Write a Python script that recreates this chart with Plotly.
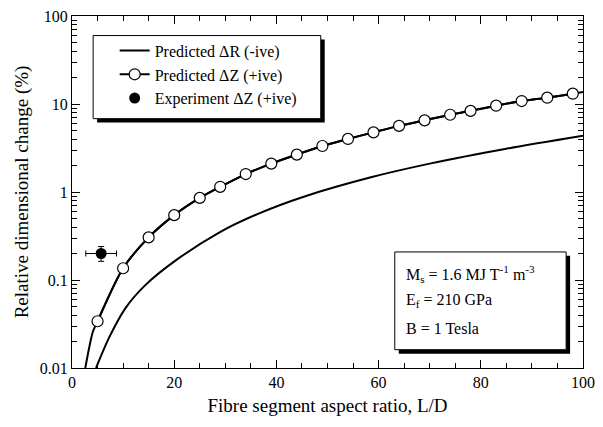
import plotly.graph_objects as go

# ---- data ----
dz_x = [5, 10, 15, 20, 25, 29, 34, 39, 44, 49, 54, 59, 64, 69, 74, 78, 83, 88, 93, 98]
dz_y = [0.034, 0.136, 0.305, 0.546, 0.857, 1.145, 1.60, 2.10, 2.66, 3.33, 4.01, 4.76,
        5.64, 6.52, 7.55, 8.36, 9.57, 10.8, 11.8, 13.1]
# smooth ΔZ curve ends beyond the marked points
dz_lo_x = [2.6, 3.4, 4.05]
dz_lo_y = [0.01, 0.0174, 0.0255]
dz_hi_x = [100]
dz_hi_y = [13.7]

dr_x = [4.7, 7.3, 10.5, 14.4, 20.3, 28.7, 36.4, 45.5, 58.5, 70, 85, 100]
dr_y = [0.01, 0.0224, 0.0483, 0.088, 0.167, 0.344, 0.565, 0.89, 1.47, 2.1, 3.1, 4.35]

exp_x = [5.7]
exp_y = [0.20]
exp_xerr = [3.0]
exp_yerr_plus = [0.04]
exp_yerr_minus = [0.037]

x_ticks = [0, 20, 40, 60, 80, 100]
y_ticks = [0.01, 0.1, 1, 10, 100]
y_tick_text = ["0.01", "0.1", "1", "10", "100"]
y_minor = [m * 10 ** e for e in (-2, -1, 0, 1) for m in range(2, 10)]

FONT = "Liberation Serif, Times New Roman, serif"

fig = go.Figure()

fig.add_trace(go.Scatter(
    x=dr_x, y=dr_y, mode="lines", name="Predicted ΔR (-ive)",
    line=dict(color="black", width=2, shape="spline", smoothing=0.8)))

fig.add_trace(go.Scatter(
    x=dz_lo_x + dz_x + dz_hi_x, y=dz_lo_y + dz_y + dz_hi_y, mode="lines",
    showlegend=False, hoverinfo="skip",
    line=dict(color="black", width=2, shape="spline", smoothing=0.8)))

fig.add_trace(go.Scatter(
    x=dz_x, y=dz_y, mode="lines+markers", name="Predicted ΔZ (+ive)",
    line=dict(color="black", width=2, shape="spline", smoothing=0.8),
    marker=dict(symbol="circle", size=11, color="white",
                line=dict(color="black", width=1.2))))

fig.add_trace(go.Scatter(
    x=exp_x, y=exp_y, mode="markers", name="Experiment ΔZ (+ive)",
    marker=dict(symbol="circle", size=11, color="black"),
    error_x=dict(type="data", array=exp_xerr, color="black", thickness=1, width=3),
    error_y=dict(type="data", array=exp_yerr_plus, arrayminus=exp_yerr_minus,
                 color="black", thickness=1, width=3)))

# helper: pixel -> paper
L, R, T, B = 72, 16, 8, 59
W, H = 603, 427
pw, ph = W - L - R, H - T - B
def px(x):
    return (x - L) / pw
def py(y):
    return (H - B - y) / ph

shapes = []
# legend box with shadow
shapes.append(dict(type="rect", xref="paper", yref="paper",
                   x0=px(97.3), x1=px(326.7), y0=py(117), y1=py(32),
                   fillcolor="black", line=dict(width=0), layer="above"))
shapes.append(dict(type="rect", xref="paper", yref="paper",
                   x0=px(93.3), x1=px(322.7), y0=py(113), y1=py(28),
                   fillcolor="white", line=dict(color="black", width=1), layer="above"))
# parameter box with shadow
shapes.append(dict(type="rect", xref="paper", yref="paper",
                   x0=px(401.3), x1=px(574), y0=py(353.3), y1=py(253.3),
                   fillcolor="black", line=dict(width=0), layer="above"))
shapes.append(dict(type="rect", xref="paper", yref="paper",
                   x0=px(397.3), x1=px(570), y0=py(349.3), y1=py(249.3),
                   fillcolor="white", line=dict(color="black", width=1), layer="above"))

ann_text = ["M<sub>s</sub> = 1.6 MJ T<sup>-1</sup> m<sup>-3</sup>",
            "E<sub>f</sub> = 210 GPa",
            "B = 1 Tesla"]
ann_y = [271.5, 299, 327.5]
annotations = [dict(text=t, xref="paper", yref="paper", x=px(407), y=py(yy),
                    xanchor="left", yanchor="middle", showarrow=False,
                    font=dict(family=FONT, size=16, color="black"))
               for t, yy in zip(ann_text, ann_y)]

fig.update_layout(
    width=W, height=H,
    margin=dict(l=L, r=R, t=T, b=B),
    paper_bgcolor="white", plot_bgcolor="white",
    font=dict(family=FONT, size=16, color="black"),
    shapes=shapes, annotations=annotations,
    legend=dict(x=px(115), y=py(26), xanchor="left", yanchor="top",
                bgcolor="rgba(0,0,0,0)", borderwidth=0,
                font=dict(family=FONT, size=16, color="black"),
                tracegroupgap=0),
    xaxis=dict(range=[0, 100], tickvals=x_ticks, ticks="inside", ticklen=8,
               tickcolor="black", showline=True, linecolor="black", linewidth=1,
               mirror="ticks", showgrid=False, zeroline=False,
               minor=dict(dtick=5, ticks="inside", ticklen=5, tickcolor="black"),
               title=dict(text="Fibre segment aspect ratio, L/D", standoff=8),
               tickfont=dict(size=16)),
    yaxis=dict(type="log", range=[-2, 2], tickvals=y_ticks, ticktext=y_tick_text,
               ticks="inside", ticklen=8, tickcolor="black", showline=True,
               linecolor="black", linewidth=1, mirror="ticks", showgrid=False,
               zeroline=False,
               minor=dict(tickmode="array", tickvals=y_minor, ticks="inside",
                          ticklen=5, tickcolor="black"),
               title=dict(text="Relative dimensional change (%)", standoff=6),
               tickfont=dict(size=16)),
)

fig.write_html("out.html",
               config={"displayModeBar": False},
               post_script="document.body.style.margin='0px';document.body.style.padding='0px';")
